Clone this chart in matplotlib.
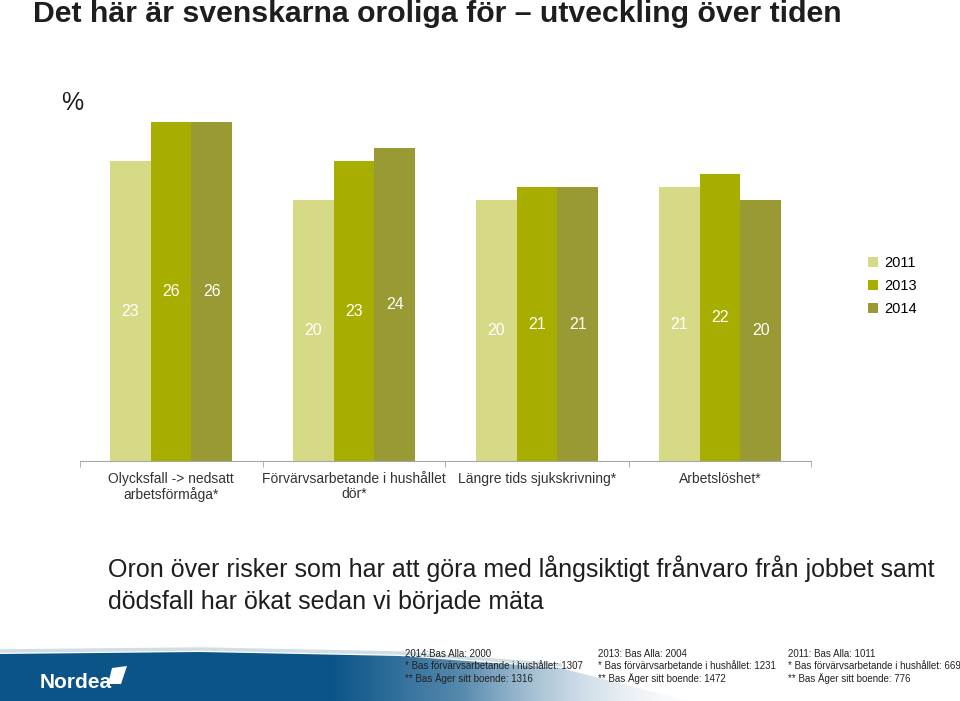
import numpy as np
import matplotlib.pyplot as plt
from matplotlib.patches import Polygon

plt.rcParams['font.family'] = ['Liberation Sans', 'DejaVu Sans']

# data
categories = ['Olycksfall -> nedsatt\narbetsförmåga*',
              'Förvärvsarbetande i hushållet\ndör*',
              'Längre tids sjukskrivning*',
              'Arbetslöshet*']
years = ['2011', '2013', '2014']
v2011 = [23, 20, 20, 21]
v2013 = [26, 23, 21, 22]
v2014 = [26, 24, 21, 20]
colors = ['#D6DA87', '#A8AE00', '#999A33']

fig = plt.figure(figsize=(9.6, 7.01), dpi=100)

# background decoration layer in pixel coords
bg = fig.add_axes([0, 0, 1, 1], zorder=0)
bg.set_xlim(0, 960)
bg.set_ylim(701, 0)
bg.axis('off')

# blue footer band with fade to the right
band = Polygon([(0, 654), (200, 652), (400, 656), (560, 668), (690, 701), (0, 701)],
               closed=True, facecolor='none', edgecolor='none')
bg.add_patch(band)
grad = np.zeros((50, 960, 4))
xs = np.arange(960)
alpha = np.clip((700 - xs) / 330.0, 0, 1)
base = np.array([0.04, 0.33, 0.53])
light = np.array([0.80, 0.86, 0.91])
mix = np.clip((xs - 330) / 330.0, 0, 1)
for i in range(3):
    grad[:, :, i] = base[i] * (1 - mix) + light[i] * mix
grad[:, :, 3] = np.clip(alpha * 1.4, 0, 1)
im = bg.imshow(grad, extent=[0, 960, 701, 651], aspect='auto', zorder=1)
im.set_clip_path(band)
bg.plot([0, 200, 400, 560], [651, 649, 653, 665], color='#B5C8D6', lw=2.5, alpha=0.6, zorder=0.5)

bg.text(40, 683, 'Nordea', color='white', fontsize=15, fontweight='bold',
        va='center', ha='left', zorder=3)
sail = Polygon([(112, 668), (127, 666), (121, 684), (108, 684)], closed=True,
               facecolor='white', edgecolor='none', zorder=3)
bg.add_patch(sail)

# titles
bg.text(33, 14, 'Det här är svenskarna oroliga för – utveckling över tiden',
        fontsize=21.8, fontweight='bold', color='#1E1E1E', va='center', ha='left')
bg.text(61, 103, '%', fontsize=18, color='#1E1E1E', va='center', ha='left')
bg.text(108, 585, 'Oron över risker som har att göra med långsiktigt frånvaro från jobbet samt\n'
        'dödsfall har ökat sedan vi började mäta',
        fontsize=18, color='#1E1E1E', va='center', ha='left', linespacing=1.42)

# footnotes
notes = [(405, ['2014:Bas Alla: 2000', '* Bas förvärvsarbetande i hushållet: 1307',
                '** Bas Äger sitt boende: 1316']),
         (598, ['2013: Bas Alla: 2004', '* Bas förvärvsarbetande i hushållet: 1231',
                '** Bas Äger sitt boende: 1472']),
         (788, ['2011: Bas Alla: 1011', '* Bas förvärvsarbetande i hushållet: 669',
                '** Bas Äger sitt boende: 776'])]
for x0, lines in notes:
    for j, line in enumerate(lines):
        bg.text(x0, 654 + 12.2 * j, line, fontsize=7, color='#222222',
                va='center', ha='left', zorder=4)

# bar chart
ax = fig.add_axes([79.5 / 960, 1 - 461 / 701, 732 / 960, 365 / 701], zorder=2)
ax.patch.set_alpha(0)
x = np.arange(len(categories))
w = 0.222
for k, (vals, col, yr) in enumerate(zip([v2011, v2013, v2014], colors, years)):
    bars = ax.bar(x + (k - 1) * w, vals, w, color=col, label=yr)
    ax.bar_label(bars, label_type='center', color='white', fontsize=11.5)

ax.set_xlim(-0.5, 3.5)
ax.set_ylim(0, 28)
ax.set_yticks([])
for s in ['top', 'right', 'left']:
    ax.spines[s].set_visible(False)
ax.spines['bottom'].set_color('#A6A6A6')
ax.set_xticks(x)
ax.set_xticklabels(categories, fontsize=10, color='#333333', linespacing=1.05)
ax.tick_params(axis='x', which='major', length=0, pad=8)
ax.set_xticks([-0.5, 0.5, 1.5, 2.5, 3.5], minor=True)
ax.tick_params(axis='x', which='minor', length=4, color='#A6A6A6')

ax.legend(loc='upper left', bbox_to_anchor=(855 / 960, 1 - 243 / 701),
          bbox_transform=fig.transFigure, frameon=False, fontsize=10.5,
          handlelength=0.7, handleheight=0.7, handletextpad=0.4, labelspacing=0.62)

fig.savefig('out.png', dpi=100)
